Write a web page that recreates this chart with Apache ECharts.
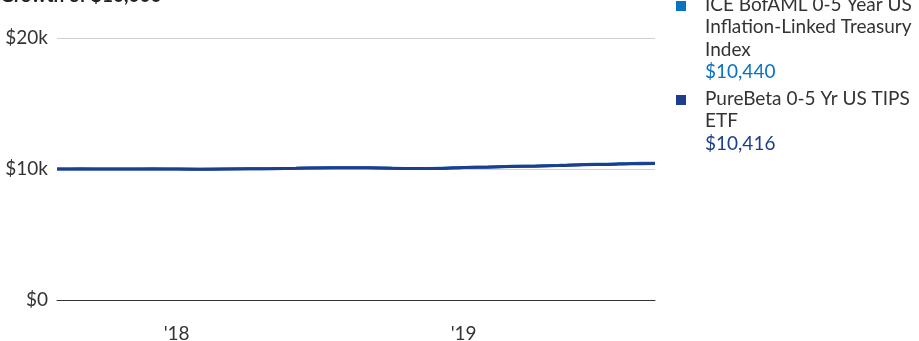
<!DOCTYPE html>
<html>
<head>
<meta charset="utf-8">
<script src="https://cdn.jsdelivr.net/npm/echarts@6/dist/echarts.min.js"></script>
<style>html,body{margin:0;padding:0;background:#fff}#c{width:919px;height:341px}</style>
</head>
<body>
<div id="c"></div>
<script>
const title = 'Growth of $10,000';
const months = ['2017-08','2017-09','2017-10','2017-11','2017-12','2018-01','2018-02','2018-03','2018-04','2018-05','2018-06','2018-07','2018-08','2018-09','2018-10','2018-11','2018-12','2019-01','2019-02','2019-03','2019-04','2019-05','2019-06','2019-07','2019-08','2019-09'];
const indexName = 'ICE BofAML 0-5 Year US Inflation-Linked Treasury Index';
const indexLines = ['ICE BofAML 0-5 Year US', 'Inflation-Linked Treasury', 'Index'];
const indexValues = [10000,10010,10005,10005,10012,10002,9985,10002,10020,10032,10052,10090,10102,10092,10055,10035,10052,10122,10152,10202,10232,10282,10350,10365,10420,10440];
const etfName = 'PureBeta 0-5 Yr US TIPS ETF';
const etfLines = ['PureBeta 0-5 Yr US TIPS', 'ETF'];
const etfValues = [10000,10008,10002,10000,10008,9998,9980,9998,10015,10028,10048,10085,10096,10086,10048,10030,10046,10112,10140,10190,10218,10266,10332,10346,10400,10416];
const yTicks = [0, 10000, 20000];
const yLabels = ['$0', '$10k', '$20k'];
const indexColor = '#0a72c0';
const etfColor = '#1e3d8c';

const fmt = v => '$' + v.toLocaleString('en-US');
const font = 'Lato, "Noto Sans", sans-serif';
const fs = 19;
const chart = echarts.init(document.getElementById('c'), null, {renderer: 'canvas'});

function legendBlock(lines, value, color, top) {
  const els = [];
  els.push({type: 'rect', left: 676, top: top - 5, shape: {width: 10, height: 10}, style: {fill: color}});
  lines.forEach((t, i) => {
    els.push({type: 'text', left: 705, top: top - 11 + i * 22.5, style: {text: t, fill: '#333', font: fs + 'px ' + font}});
  });
  els.push({type: 'text', left: 705, top: top - 11 + lines.length * 22.5, style: {text: value, fill: color, font: fs + 'px ' + font}});
  return els;
}

chart.setOption({
  animation: false,
  grid: {left: 57, right: 264, top: 38, bottom: 41, outerBoundsMode: 'none', containLabel: false},
  graphic: [
    {type: 'text', left: 0, top: -14, style: {text: title, fill: '#222', font: 'bold 19px ' + font}},
    ...legendBlock(indexLines, fmt(indexValues[indexValues.length - 1]), indexColor, 6),
    ...legendBlock(etfLines, fmt(etfValues[etfValues.length - 1]), etfColor, 100)
  ],
  xAxis: {
    type: 'category',
    data: months,
    boundaryGap: false,
    axisLine: {lineStyle: {color: '#333', width: 1}},
    axisTick: {show: false},
    axisLabel: {
      interval: (i, v) => v.endsWith('-01'),
      formatter: v => "'" + v.slice(2, 4),
      color: '#333', fontSize: fs, fontFamily: font, margin: 24
    }
  },
  yAxis: {
    type: 'value', min: 0, max: 20000, interval: 10000,
    axisLine: {show: false}, axisTick: {show: false},
    splitLine: {lineStyle: {color: '#d0d0d0', width: 1}},
    axisLabel: {
      formatter: v => yLabels[yTicks.indexOf(v)],
      color: '#333', fontSize: fs, fontFamily: font, margin: 9
    }
  },
  series: [
    {name: indexName, type: 'line', data: indexValues, showSymbol: false, smooth: 0.3,
     lineStyle: {color: indexColor, width: 3}, itemStyle: {color: indexColor}},
    {name: etfName, type: 'line', data: etfValues, showSymbol: false, smooth: 0.3,
     lineStyle: {color: etfColor, width: 3}, itemStyle: {color: etfColor}}
  ]
});
</script>
</body>
</html>
